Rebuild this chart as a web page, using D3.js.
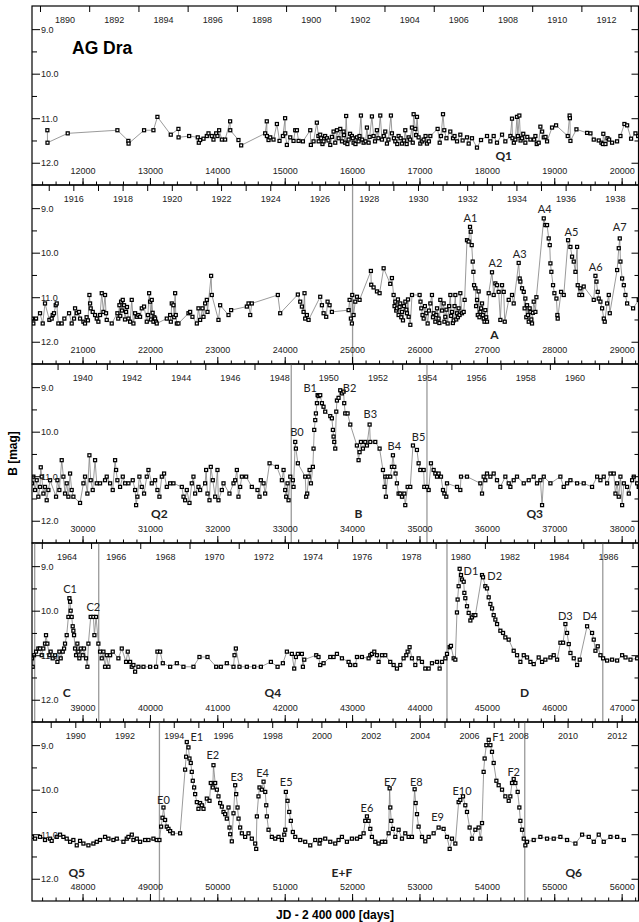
<!DOCTYPE html>
<html>
<head>
<meta charset="utf-8">
<script src="https://cdn.jsdelivr.net/npm/d3@7"></script>
<style>
  body { margin: 0; background: #fff; }
  svg { display: block; }
</style>
</head>
<body>
<svg id="chart"></svg>
<script>
// [JD - 2400000, B mag], one list per panel
var dataQ1 = [
  [11478,11.27],[11480,11.55],[11780,11.34],[12517,11.27],[12680,11.51],[12683,11.57],[12913,11.27],[13052,11.27],
  [13111,10.97],[13309,11.37],[13423,11.24],[13425,11.43],[13582,11.40],[13710,11.43],[13725,11.55],[13745,11.49],
  [13795,11.46],[13844,11.40],[13869,11.34],[13918,11.40],[13943,11.48],[13983,11.34],[14002,11.40],[14027,11.27],
  [14067,11.48],[14116,11.48],[14190,11.07],[14192,11.27],[14314,11.49],[14354,11.61],[14710,11.34],[14734,11.07],
  [14736,11.40],[14760,11.49],[14785,11.43],[14834,11.48],[14884,11.13],[14923,11.51],[14973,11.40],[15006,11.00],
  [15008,11.34],[15032,11.60],[15082,11.43],[15131,11.51],[15156,11.27],[15181,11.27],[15206,11.51],[15270,11.52],
  [15379,11.27],[15388,11.60],[15428,11.52],[15477,11.10],[15500,11.40],[15504,11.52],
  [15527,11.37],[15540,11.45],[15560,11.58],[15577,11.52],[15600,11.40],[15626,11.45],[15650,11.50],[15676,11.60],
  [15700,11.42],[15725,11.30],[15750,11.55],[15775,11.27],[15800,11.45],[15824,11.24],[15850,11.52],[15874,11.30],
  [15880,11.38],[15898,11.55],[15912,10.95],[15930,11.58],[15948,11.48],[15970,11.35],[15997,11.40],[16010,11.45],
  [16022,11.55],[16050,11.58],[16072,11.43],[16096,11.52],[16110,11.40],[16131,10.94],[16150,11.48],[16171,11.55],
  [16200,11.52],[16220,11.21],[16245,11.55],[16260,11.42],[16294,10.96],[16319,11.40],[16340,11.52],[16368,11.27],
  [16390,11.45],[16418,10.94],[16443,11.48],[16470,11.40],[16492,11.30],[16517,11.57],[16540,11.48],[16576,10.94],
  [16591,11.34],[16620,11.45],[16641,11.52],[16670,11.58],[16690,11.40],[16720,11.45],[16740,11.57],[16770,11.50],
  [16789,11.27],[16810,11.58],[16839,11.43],[16860,11.48],[16888,11.21],[16900,11.55],[16913,10.91],[16938,11.24],
  [16950,11.38],[16963,10.97],[16987,11.43],[17012,11.57],[17040,11.52],[17062,11.48],[17090,11.40],[17111,11.57],
  [17140,11.52],[17161,11.40],[17269,11.24],[17300,11.55],[17319,11.40],[17349,10.91],[17368,11.27],[17400,11.45],
  [17457,11.30],[17497,11.45],[17520,11.40],[17557,11.52],[17606,11.37],[17640,11.50],[17705,11.43],[17730,11.57],
  [17779,11.45],[17853,11.66],[17913,11.49],[18002,11.40],[18052,11.52],[18101,11.40],[18150,11.55],[18225,11.37],
  [18274,11.52],[18349,11.40],[18373,11.01],[18380,11.45],[18400,11.55],[18423,11.48],[18447,10.97],[18460,11.40],
  [18482,10.94],[18500,11.50],[18522,11.45],[18540,11.35],[18571,11.55],[18600,11.42],[18646,11.48],[18700,11.48],
  [18720,11.40],[18740,11.58],[18769,11.55],[18794,11.19],[18820,11.30],[18844,11.43],[18870,11.42],[18893,11.52],
  [18967,11.21],[19027,11.16],[19200,11.40],[19228,10.94],[19232,11.00],[19240,11.51],[19329,11.25],[19487,11.33],
  [19537,11.34],[19586,11.48],[19660,11.50],[19700,11.55],[19722,11.58],[19728,11.35],[19760,11.58],[19790,11.45],
  [19814,11.48],[19858,11.55],[19932,11.52],[19982,11.40],[20041,11.13],[20081,11.16],[20140,11.46],[20205,11.34],
  [20245,11.40]
];

var dataA = [
  [20250,11.48],[20270,11.59],[20310,11.48],[20369,11.36],[20409,11.59],[20443,11.14],[20508,11.51],[20542,11.48],
  [20557,11.40],[20577,11.36],[20602,11.18],[20617,11.14],[20641,11.59],[20691,11.59],[20730,11.48],[20800,11.36],
  [20839,11.59],[20874,11.48],[20889,11.25],[20914,11.36],[20948,11.33],[20963,11.48],[21013,11.55],[21037,11.59],
  [21060,11.45],[21080,11.52],[21102,10.95],[21112,11.14],[21121,11.25],[21151,11.33],[21186,11.40],[21211,11.48],
  [21235,11.55],[21260,11.40],[21285,10.91],[21310,11.33],[21334,10.95],[21349,11.36],[21359,11.51],[21433,11.59],
  [21517,11.36],[21530,11.48],[21547,11.18],[21560,11.42],[21572,11.10],[21585,11.30],[21597,11.06],[21616,11.18],
  [21630,11.50],[21646,11.33],[21660,11.22],[21681,11.48],[21706,11.55],[21730,11.06],[21755,11.59],[21780,11.36],
  [21805,11.44],[21829,11.40],[21854,11.44],[21879,11.25],[21913,11.21],[21953,11.55],[21970,11.40],[21988,10.91],
  [22002,11.10],[22015,11.50],[22027,11.06],[22040,11.35],[22052,11.55],[22065,11.45],[22077,11.48],[22090,11.55],
  [22101,11.59],[22250,11.48],[22300,11.40],[22310,11.55],[22324,11.14],[22349,11.18],[22360,11.45],[22374,10.91],
  [22384,11.40],[22399,11.59],[22423,11.59],[22572,11.36],[22597,11.33],[22631,11.44],[22696,11.59],[22720,11.25],
  [22745,11.51],[22780,11.25],[22795,11.44],[22819,11.14],[22844,11.06],[22854,11.33],[22908,10.52],[22918,10.95],
  [23017,11.51],[23042,11.18],[23166,11.40],[23205,11.29],[23438,11.21],[23463,11.14],[23488,11.40],[23512,11.14],
  [23898,10.95],[23933,11.36],[24195,10.94],[24230,11.10],[24255,11.21],[24280,11.33],[24294,10.91],[24304,11.48],
  [24329,11.40],[24354,11.51],
  [24527,10.99],[24552,11.18],[24577,11.36],[24616,11.44],[24636,11.10],[24666,11.18],[24700,11.33],[24948,11.29],
  [24963,11.06],[24982,11.48],[24997,11.59],[25002,10.95],[25022,11.40],[25047,11.10],[25072,10.99],[25111,11.06],
  [25279,10.41],[25284,10.72],[25319,10.78],[25369,10.87],[25408,10.91],[25468,10.35],[25566,10.70],[25591,10.57],
  [25616,10.95],[25630,11.20],[25641,11.10],[25655,11.30],[25666,11.25],[25680,11.05],[25690,11.40],[25705,11.22],
  [25715,11.14],[25730,11.45],[25740,11.33],[25755,11.52],[25770,11.20],[25790,11.10],[25805,11.28],[25814,11.36],
  [25830,11.05],[25839,11.44],[25864,11.62],[25889,10.95],[26002,10.95],[26015,11.10],[26027,11.25],[26045,11.40],
  [26062,11.48],[26080,11.20],[26101,11.36],[26121,11.59],[26140,11.30],[26161,11.14],[26185,10.95],[26200,11.45],
  [26210,11.36],[26235,11.55],[26250,11.40],[26260,11.25],[26284,11.48],[26295,11.58],[26309,11.06],[26335,11.30],
  [26359,11.14],[26370,11.55],[26383,11.44],[26400,11.28],[26418,11.59],[26440,11.20],[26458,10.95],[26470,11.42],
  [26482,11.33],[26495,11.58],[26507,11.52],[26520,11.20],[26532,10.95],[26545,11.50],[26557,11.36],[26570,11.45],
  [26581,11.25],[26595,11.40],[26606,10.91],[26631,11.36],[26656,11.33],[26670,11.06],[26705,9.72],[26730,9.75],
  [26750,9.42],[26760,9.53],[26775,9.83],[26790,10.20],[26800,10.43],[26810,10.73],[26829,10.80],[26840,11.20],
  [26854,11.06],[26865,11.40],[26878,10.87],[26890,11.45],[26903,11.33],[26915,11.25],[26928,11.14],[26940,11.40],
  [26953,11.48],[26965,11.55],[26977,11.29],[26990,11.45],[27002,11.55],[27027,10.91],[27076,10.44],[27101,10.95],
  [27126,10.69],[27151,10.73],[27175,10.88],[27200,11.51],[27225,10.73],[27250,10.88],[27265,11.55],[27324,11.06],
  [27373,10.95],[27398,11.14],[27472,10.23],[27487,10.58],[27497,10.65],[27522,10.80],[27547,10.88],[27560,11.25],
  [27571,11.03],[27585,11.45],[27596,11.18],[27610,11.40],[27621,11.55],[27635,11.25],[27646,11.33],[27660,11.50],
  [27670,11.59],[27683,11.35],[27695,11.10],[27720,11.33],[27735,11.00],[27844,9.23],[27868,9.38],[27893,9.38],
  [27918,9.68],[27933,9.83],[27943,10.24],[27957,10.43],[27982,10.73],[28002,10.91],[28032,11.03],[28046,11.40],
  [28051,11.48],[28101,10.88],[28141,10.95],[28205,9.72],[28240,9.87],[28264,10.09],[28289,10.20],[28314,10.43],
  [28339,9.87],[28348,10.73],[28373,10.95],[28388,10.80],[28413,10.95],[28437,10.76],[28586,11.06],[28611,10.52],
  [28626,10.65],[28645,10.88],[28660,11.03],[28685,11.10],[28710,11.25],[28735,11.48],[28749,11.55],[28784,11.14],
  [28809,10.95],[28824,11.36],[28933,10.39],[28957,9.90],[28972,9.68],[28982,10.20],[29007,10.58],[29032,10.73],
  [29056,10.95],[29081,11.14],[29170,11.25],[29254,11.06]
];

var dataB = [
  [29250,11.16],[29270,11.01],[29295,11.31],[29320,11.09],[29344,11.46],[29369,11.24],[29380,10.80],[29394,11.01],
  [29419,11.39],[29443,11.24],[29468,11.54],[29493,11.31],[29518,11.09],[29607,11.46],[29627,11.09],[29656,11.31],
  [29691,10.64],[29716,11.01],[29740,11.39],[29765,11.16],[29790,11.46],[29815,10.94],[29839,11.31],[29864,11.46],
  [29963,11.60],[30013,11.16],[30037,11.01],[30072,11.39],[30102,10.53],[30121,11.09],[30151,11.31],[30186,10.64],
  [30211,11.16],[30260,11.16],[30334,11.09],[30359,11.01],[30409,11.16],[30448,11.31],[30483,10.64],[30498,10.86],
  [30517,11.09],[30557,11.24],[30597,11.01],[30631,11.16],[30681,11.16],[30745,11.09],[30780,11.31],[30795,11.65],
  [30814,11.46],[30844,11.01],[30879,11.24],[30913,11.39],[30953,11.01],[30978,10.86],[31027,11.16],[31077,11.09],
  [31111,11.31],[31141,11.46],[31176,11.01],[31210,10.94],[31250,11.24],[31300,11.16],[31349,11.16],[31473,11.24],
  [31498,11.46],[31522,11.54],[31547,11.31],[31587,11.60],[31621,11.16],[31646,11.01],[31671,11.39],[31720,11.24],
  [31745,11.31],[31819,11.16],[31834,10.86],[31854,11.39],[31884,11.54],[31903,10.79],[31933,11.09],[31968,11.46],
  [32002,10.86],[32017,11.54],[32067,11.31],[32092,11.16],[32180,11.39],[32240,11.16],[32265,11.09],[32290,10.86],
  [32314,11.46],[32339,11.24],[32364,11.01],[32428,11.01],[32512,11.24],[32596,11.31],[32626,11.46],[32646,11.09],
  [32686,11.16],[32710,11.39],[32775,10.71],[32884,10.79],[32958,11.09],[32983,10.86],[33007,11.31],[33022,11.46],
  [33042,11.16],[33057,11.54],[33082,11.01],[33121,11.09],[33131,11.24],[33156,10.23],[33166,10.38],[33195,10.71],
  [33304,11.01],[33319,11.46],[33334,11.39],[33354,11.01],[33369,10.86],[33389,11.16],[33418,10.79],[33428,10.38],
  [33438,9.96],[33453,9.74],[33463,9.59],[33478,9.36],[33488,9.18],[33502,9.20],[33527,9.18],[33552,9.36],
  [33576,9.44],[33601,9.55],[33676,9.65],[33700,9.70],[33715,9.96],[33725,10.11],[33735,10.23],[33750,10.38],
  [33765,9.55],[33775,9.30],[33799,9.24],[33824,9.07],[33849,9.14],[33874,9.10],[33883,9.36],[33898,9.59],
  [33933,9.59],[33973,9.84],[34071,10.31],[34096,10.64],[34111,10.46],[34131,10.23],[34161,10.38],[34195,10.23],
  [34220,10.31],[34260,9.84],[34270,10.23],[34344,10.23],[34408,10.38],[34458,10.86],[34482,11.24],[34492,11.01],
  [34502,11.46],[34527,11.01],[34566,11.01],[34591,10.79],[34606,10.53],[34626,10.79],[34645,10.94],[34665,11.16],
  [34690,11.39],[34715,11.39],[34740,11.46],[34775,11.39],[34789,11.65],[34824,11.24],[34863,11.24],[34903,10.31],
  [34962,10.41],[34987,10.71],[35012,10.86],[35062,10.86],[35071,11.24],[35111,11.24],[35136,11.31],[35170,10.71],
  [35210,10.86],[35235,10.94],[35260,11.01],[35284,10.94],[35319,11.01],[35349,11.31],[35369,11.39],[35398,11.46],
  [35408,11.16],[35557,11.24],[35606,11.31],[35616,11.01],[35705,11.01],[35903,11.16],[35928,11.39],[35952,11.01],
  [35977,11.09],[36002,10.94],[36052,11.01],[36101,10.94],[36150,11.09],[36200,11.24],[36274,11.01],[36324,11.16],
  [36349,11.24],[36398,11.09],[36447,11.01],[36547,11.16],[36621,11.09],[36695,11.01],[36744,11.16],[36794,11.09],
  [36819,11.65],[36844,11.01],[36943,11.16],[37091,11.01],[37140,11.24],[37190,11.16],[37240,11.09],[37339,11.16],
  [37437,11.16],[37561,11.24],[37636,11.01],[37685,11.09],[37734,11.01],[37784,11.16],[37834,10.94],[37883,10.94],
  [37908,11.39],[37933,11.16],[37957,11.46],[37982,11.01],[38007,11.65],[38032,11.16],[38081,11.24],[38106,11.39],
  [38155,11.09],[38180,11.01],[38230,11.16],[38254,11.24]
];

var dataCD = [
  [38250,11.07],[38260,11.26],[38280,11.00],[38310,10.92],[38344,10.85],[38369,10.85],[38394,11.00],[38418,10.85],
  [38443,10.74],[38458,10.55],[38478,10.74],[38508,11.00],[38527,10.92],[38557,11.07],[38592,11.00],[38627,11.15],
  [38656,10.92],[38676,11.07],[38706,10.92],[38726,10.85],[38740,10.74],[38765,10.55],[38790,10.14],[38805,9.72],
  [38815,9.80],[38824,10.00],[38839,10.14],[38854,10.35],[38864,10.45],[38874,10.55],[38889,10.85],[38904,11.00],
  [38923,10.74],[38938,10.92],[38953,11.07],[38973,10.85],[39003,11.00],[39022,10.85],[39052,11.07],[39072,11.26],
  [39087,10.74],[39121,10.14],[39161,10.14],[39176,10.55],[39201,10.14],[39235,10.74],[39260,10.92],[39285,11.07],
  [39310,10.92],[39334,11.26],[39359,11.00],[39384,11.26],[39409,11.00],[39448,10.92],[39532,11.07],[39582,10.85],
  [39646,11.15],[39671,10.92],[39706,11.15],[39730,11.26],[39755,11.22],[39780,11.37],[39829,11.26],[39904,11.26],
  [40003,11.26],[40092,11.26],[40111,10.92],[40151,10.92],[40191,11.18],[40300,11.26],[40399,11.18],[40497,11.26],
  [40646,11.26],[40735,11.04],[40854,11.04],[40983,11.26],[41052,11.26],[41141,11.18],[41240,11.26],[41255,11.00],
  [41275,10.85],[41329,11.26],[41438,11.26],[41547,11.26],[41646,11.26],[41795,11.15],[41894,11.26],[41973,11.18],
  [42032,10.92],[42106,10.97],[42141,11.30],[42166,11.04],[42195,10.97],[42255,10.97],[42270,11.26],[42290,11.10],
  [42468,11.00],[42502,11.04],
  [42527,11.22],[42577,11.18],[42676,11.04],[42725,11.04],[42775,10.97],[42849,11.07],[42948,11.15],[42972,11.22],
  [43047,11.22],[43072,11.04],[43146,11.04],[43245,11.07],[43270,11.00],[43294,10.97],[43329,10.92],[43368,11.00],
  [43393,11.15],[43443,11.00],[43492,11.00],[43566,11.15],[43616,11.22],[43665,11.30],[43715,11.22],[43764,11.07],
  [43804,11.00],[43824,10.92],[43853,10.82],[43888,11.07],[43938,11.22],[43987,11.07],[44037,11.15],[44086,11.30],
  [44136,11.30],[44185,11.18],[44260,11.15],[44299,11.30],[44334,11.15],[44384,11.07],[44408,10.97],[44448,10.82],
  [44467,10.79],[44507,11.07],[44532,11.10],[44556,10.04],[44566,9.75],[44581,9.45],[44596,9.06],[44616,9.20],
  [44631,9.30],[44656,9.35],[44666,9.60],[44680,9.72],[44705,9.90],[44730,10.05],[44755,10.22],[44779,10.15],
  [44804,10.10],[44829,10.10],[44928,9.20],[44943,9.25],[44977,9.45],[45002,9.50],[45027,9.70],[45052,9.85],
  [45077,9.95],[45101,10.10],[45126,10.20],[45151,10.30],[45200,10.45],[45240,10.50],[45274,10.60],[45324,10.65],
  [45398,10.90],[45448,11.00],[45497,11.15],[45547,11.00],[45596,11.05],[45646,11.15],[45695,11.20],[45769,11.05],
  [45819,11.15],[45868,11.10],[45943,11.05],[45992,11.00],[46042,11.10],[46091,10.72],[46131,10.72],[46165,10.30],
  [46190,10.50],[46215,10.75],[46240,10.95],[46289,11.07],[46339,11.22],[46378,11.10],[46487,10.35],[46561,10.50],
  [46586,10.65],[46611,10.90],[46645,10.80],[46685,11.00],[46725,11.07],[46784,11.12],[46858,11.10],[46933,11.12],
  [47007,11.00],[47057,11.05],[47131,11.10],[47230,11.07]
];

var dataEF = [
  [47250,11.06],[47295,11.10],[47369,11.06],[47443,11.13],[47518,11.10],[47542,11.15],[47617,11.06],[47666,11.01],
  [47716,11.06],[47765,11.10],[47815,11.17],[47864,11.13],[47914,11.25],[47963,11.15],[48013,11.21],[48087,11.25],
  [48161,11.21],[48211,11.17],[48260,11.13],[48334,11.06],[48384,11.10],[48458,11.13],[48508,11.10],[48607,11.17],
  [48656,11.10],[48681,11.06],[48731,11.01],[48755,11.13],[48805,11.10],[48854,11.17],[48928,11.13],[48978,11.13],
  [49052,11.10],[49101,11.13],[49141,11.13],[49166,10.83],[49186,10.63],[49201,10.40],[49225,10.68],[49250,10.83],
  [49275,10.88],[49300,10.93],[49339,10.98],[49448,10.98],[49522,9.55],[49537,9.26],[49547,8.93],[49572,9.05],
  [49587,9.30],[49606,9.40],[49621,9.60],[49636,9.80],[49656,9.95],[49671,10.10],[49696,10.28],[49720,10.43],
  [49745,10.30],[49770,10.35],[49795,10.43],[49844,10.20],[49884,10.25],[49903,9.85],[49933,9.95],[49943,9.45],
  [49968,9.85],[49993,10.00],[50017,10.15],[50042,10.30],[50067,10.38],[50092,10.50],[50116,10.55],[50141,10.65],
  [50166,10.40],[50181,10.85],[50191,11.00],[50215,11.16],[50240,10.53],[50265,9.90],[50280,10.10],[50300,10.40],
  [50315,10.65],[50339,10.85],[50364,10.98],[50413,11.06],[50463,10.98],[50512,11.10],[50562,11.21],[50577,11.33],
  [50587,10.60],[50611,10.15],[50626,9.95],[50661,10.00],[50686,9.82],[50711,10.05],[50726,10.35],[50735,10.60],
  [50760,10.90],[50809,11.06],[50859,11.10],[50908,11.06],[50958,11.13],[50993,11.01],[51007,10.90],[51017,10.05],
  [51042,10.25],[51067,10.50],[51091,10.70],[51121,10.95],[51156,11.06],[51230,11.13],[51304,11.17],[51379,11.25],
  [51453,11.13],[51517,11.21],
  [51527,11.13],[51601,11.10],[51676,11.17],[51750,11.21],[51799,11.13],[51849,11.06],[51923,11.17],[51997,11.10],
  [52072,11.10],[52121,11.06],[52171,10.98],[52195,10.70],[52220,10.60],[52245,10.70],[52270,10.88],[52294,11.06],
  [52344,11.17],[52393,11.21],[52443,11.17],[52492,11.17],[52542,10.98],[52557,9.97],[52567,10.40],[52581,10.70],
  [52606,10.88],[52641,11.06],[52690,10.90],[52740,11.10],[52789,10.98],[52839,11.06],[52888,11.06],[52928,9.99],
  [52943,10.30],[52963,10.55],[52987,10.83],[53037,11.06],[53086,11.16],[53136,11.06],[53210,10.98],[53284,10.85],
  [53358,10.88],[53408,11.06],[53448,11.33],[53482,11.10],[53532,11.21],[53581,10.28],[53606,10.23],[53646,10.15],
  [53680,10.35],[53705,10.50],[53744,10.85],[53779,11.10],[53829,10.90],[53878,10.85],[53903,11.10],[53928,10.75],
  [53952,9.60],[53967,9.30],[53992,9.00],[54027,8.88],[54052,9.00],[54076,9.15],[54101,9.40],[54141,9.80],
  [54175,9.90],[54225,10.00],[54274,10.15],[54324,10.25],[54348,10.15],[54373,9.85],[54398,9.76],[54423,9.85],
  [54457,10.05],[54482,10.40],[54497,10.70],[54522,10.90],[54547,11.10],[54571,11.25],[54596,11.17],[54695,11.13],
  [54794,11.06],[54893,11.10],[54992,11.10],[55091,11.06],[55190,11.13],[55314,11.21],[55413,11.01],[55512,11.06],
  [55586,11.17],[55660,11.01],[55734,11.17],[55834,11.06],[55933,11.06],[56032,11.13]
];

// start of each panel (JD - 2400000), every panel covers 9000 days
var panelStarts = [11250, 20250, 29250, 38250, 47250];

// vertical markers (JD - 2400000)
var markersQ1 = [];
var markersA = [25007];
var markersB = [33097, 35111];
var markersCD = [38290, 39240, 44408, 46720];
var markersEF = [49141, 54562];

// calendar year labels shown along the top of each panel
var yearLabels1 = [1890, 1892, 1894, 1896, 1898, 1900, 1902, 1904, 1906, 1908, 1910, 1912];
var yearLabels2 = [1916, 1918, 1920, 1922, 1924, 1926, 1928, 1930, 1932, 1934, 1936, 1938];
var yearLabels3 = [1940, 1942, 1944, 1946, 1948, 1950, 1952, 1954, 1956, 1958, 1960];
var yearLabels4 = [1964, 1966, 1968, 1970, 1972, 1974, 1976, 1978, 1980, 1982, 1984, 1986];
var yearLabels5 = [1990, 1992, 1994, 1996, 1998, 2000, 2002, 2004, 2006, 2008, 2010, 2012];

// outburst labels [text, JD, mag]
var peaksA = [["A1",26755,9.23],["A2",27126,10.24],["A3",27487,10.04],["A4",27858,9.03],["A5",28254,9.53],["A6",28616,10.33],["A7",28972,9.43]];
var peaksB = [["B0",33181,10.02],["B1",33379,9.03],["B2",33963,9.03],["B3",34270,9.61],["B4",34626,10.32],["B5",34987,10.13]];
var peaksCD = [["C1",38815,9.51],["C2",39161,9.93],["D1",44764,9.11],["D2",45116,9.22],["D3",46165,10.12],["D4",46527,10.12]];
var peaksEF = [["E0",49201,10.23],["E1",49696,8.83],["E2",49933,9.22],["E3",50290,9.71],["E4",50671,9.63],["E5",51022,9.84],
  ["E6",52220,10.42],["E7",52567,9.84],["E8",52953,9.84],["E9",53269,10.62],["E10",53631,10.03],["F1",54175,8.83],["F2",54398,9.6]];

// activity stage labels [text, JD, mag]
var stagesQ1 = [["Q1",18250,11.85]];
var stagesA = [["A",27111,11.85]];
var stagesB = [["Q2",31141,11.85],["B",34096,11.85],["Q3",36710,11.85]];
var stagesCD = [["C",38765,11.84],["Q4",41824,11.84],["D",45561,11.84]];
var stagesEF = [["Q5",47914,11.86],["E+F",51849,11.86],["Q6",55289,11.86]];

var panels = [
  { data: dataQ1, markers: markersQ1, years: yearLabels1, shift: 1, everyYear: false, peaks: [], stages: stagesQ1 },
  { data: dataA, markers: markersA, years: yearLabels2, shift: 0, everyYear: true, peaks: peaksA, stages: stagesA },
  { data: dataB, markers: markersB, years: yearLabels3, shift: 1, everyYear: false, peaks: peaksB, stages: stagesB },
  { data: dataCD, markers: markersCD, years: yearLabels4, shift: 1, everyYear: false, peaks: peaksCD, stages: stagesCD },
  { data: dataEF, markers: markersEF, years: yearLabels5, shift: 0, everyYear: true, peaks: peaksEF, stages: stagesEF }
];

var width = 639, height = 922;
var margin = { left: 32, right: 0.5, top: 6 };
var panelHeight = 179;
var panelSpan = 9000;
var magDomain = [8.48, 12.5];
var tickFont = "'Liberation Sans', Arial, sans-serif";
var labelFont = "Lato, 'Open Sans', sans-serif";

// JD - 2400000 at 0h UT on 1 January of a year
function jdOfYear(yr) {
  return Date.UTC(yr, 0, 1) / 864e5 + 40587.5;
}

var svg = d3.select("#chart").attr("width", width).attr("height", height);

panels.forEach(function (p, i) {
  var start = panelStarts[i];
  var top = margin.top + i * panelHeight;
  var bottom = top + panelHeight;
  var data = p.data.slice().sort(function (a, b) { return a[0] - b[0]; });

  var x = d3.scaleLinear().domain([start, start + panelSpan]).range([margin.left, width - margin.right]);
  var y = d3.scaleLinear().domain(magDomain).range([top, bottom]);

  var g = svg.append("g");

  svg.append("clipPath").attr("id", "clip" + i)
    .append("rect")
    .attr("x", margin.left).attr("y", top)
    .attr("width", width - margin.right - margin.left).attr("height", panelHeight);

  var plot = g.append("g").attr("clip-path", "url(#clip" + i + ")");

  plot.selectAll(".marker").data(p.markers).enter().append("line")
    .attr("x1", function (d) { return x(d); }).attr("x2", function (d) { return x(d); })
    .attr("y1", top).attr("y2", bottom)
    .attr("stroke", "#9a9a9a").attr("stroke-width", 1.3);

  var line = d3.line()
    .x(function (d) { return x(d[0]); })
    .y(function (d) { return y(d[1]); });

  plot.append("path").datum(data)
    .attr("d", line)
    .attr("fill", "none").attr("stroke", "#808080").attr("stroke-width", 0.8);

  var s = 3;
  plot.selectAll(".pt").data(data).enter().append("rect")
    .attr("x", function (d) { return x(d[0]) - s / 2; })
    .attr("y", function (d) { return y(d[1]) - s / 2; })
    .attr("width", s).attr("height", s)
    .attr("fill", "#fff").attr("stroke", "#000").attr("stroke-width", 1.25);

  // JD axis along the bottom, ticks pointing inward
  var minorJd = d3.range(Math.ceil(start / 200) * 200, start + panelSpan + 1, 200);
  var majorJd = d3.range(Math.ceil(start / 1000) * 1000, start + panelSpan, 1000);

  g.append("g").attr("transform", "translate(0," + bottom + ")")
    .call(d3.axisTop(x).tickValues(minorJd).tickSize(3.5).tickFormat(""));
  g.append("g").attr("transform", "translate(0," + bottom + ")")
    .call(d3.axisTop(x).tickValues(majorJd).tickSize(7).tickPadding(4).tickFormat(d3.format("d")));

  // calendar years along the top
  var y0 = new Date((start - 40587.5) * 864e5).getUTCFullYear();
  var yearTicks = d3.range(y0, y0 + 26).filter(function (yr) {
    var j = jdOfYear(yr);
    return j > start && j < start + panelSpan && (p.everyYear || yr % 2 === 0);
  }).map(jdOfYear);

  g.append("g").attr("transform", "translate(0," + top + ")")
    .call(d3.axisBottom(x).tickValues(yearTicks).tickSize(6).tickFormat(""));
  g.append("g").attr("transform", "translate(0," + top + ")")
    .call(d3.axisBottom(x)
      .tickValues(p.years.map(function (yr) { return jdOfYear(yr + p.shift); }))
      .tickSize(0).tickPadding(11)
      .tickFormat(function (d, k) { return p.years[k]; }));

  // magnitude axes, left labelled, right ticks only
  g.append("g").attr("transform", "translate(" + margin.left + ",0)")
    .call(d3.axisRight(y).tickValues([9, 10, 11, 12]).tickSize(8).tickPadding(1).tickFormat(d3.format(".1f")));
  g.append("g").attr("transform", "translate(" + margin.left + ",0)")
    .call(d3.axisRight(y).tickValues([9.5, 10.5, 11.5]).tickSize(5).tickFormat(""));
  g.append("g").attr("transform", "translate(" + (width - margin.right) + ",0)")
    .call(d3.axisLeft(y).tickValues([9, 10, 11, 12]).tickSize(7).tickFormat(""));
  g.append("g").attr("transform", "translate(" + (width - margin.right) + ",0)")
    .call(d3.axisLeft(y).tickValues([9.5, 10.5, 11.5]).tickSize(4).tickFormat(""));

  g.selectAll(".domain").remove();
  g.selectAll(".tick line").attr("stroke", "#000").attr("stroke-width", 1);
  g.selectAll(".tick text")
    .attr("font-family", tickFont).attr("font-size", 9).attr("fill", "#222");

  g.selectAll(".peak").data(p.peaks).enter().append("text")
    .attr("x", function (d) { return x(d[1]); })
    .attr("y", function (d) { return y(d[2]); })
    .attr("dy", "0.35em")
    .attr("text-anchor", "middle")
    .attr("font-family", labelFont).attr("font-size", 11).attr("fill", "#222")
    .text(function (d) { return d[0]; });

  g.selectAll(".stage").data(p.stages).enter().append("text")
    .attr("x", function (d) { return x(d[1]); })
    .attr("y", function (d) { return y(d[2]); })
    .attr("dy", "0.35em")
    .attr("text-anchor", "middle")
    .attr("font-family", labelFont).attr("font-weight", "bold").attr("font-size", 12).attr("fill", "#222")
    .text(function (d) { return d[0]; });

  // panel frame
  g.append("rect")
    .attr("x", margin.left).attr("y", top)
    .attr("width", width - margin.right - margin.left).attr("height", panelHeight)
    .attr("fill", "none").attr("stroke", "#000").attr("stroke-width", 1.2);
});

svg.append("text")
  .attr("x", 72).attr("y", 54)
  .attr("font-family", tickFont).attr("font-weight", "bold").attr("font-size", 17.5)
  .text("AG Dra");

svg.append("text")
  .attr("transform", "translate(17," + (margin.top + panelHeight * 2.5) + ") rotate(-90)")
  .attr("text-anchor", "middle")
  .attr("font-family", tickFont).attr("font-weight", "bold").attr("font-size", 12)
  .text("B [mag]");

svg.append("text")
  .attr("x", 335).attr("y", 919)
  .attr("text-anchor", "middle")
  .attr("font-family", tickFont).attr("font-weight", "bold").attr("font-size", 12)
  .text("JD - 2 400 000 [days]");
</script>
</body>
</html>
